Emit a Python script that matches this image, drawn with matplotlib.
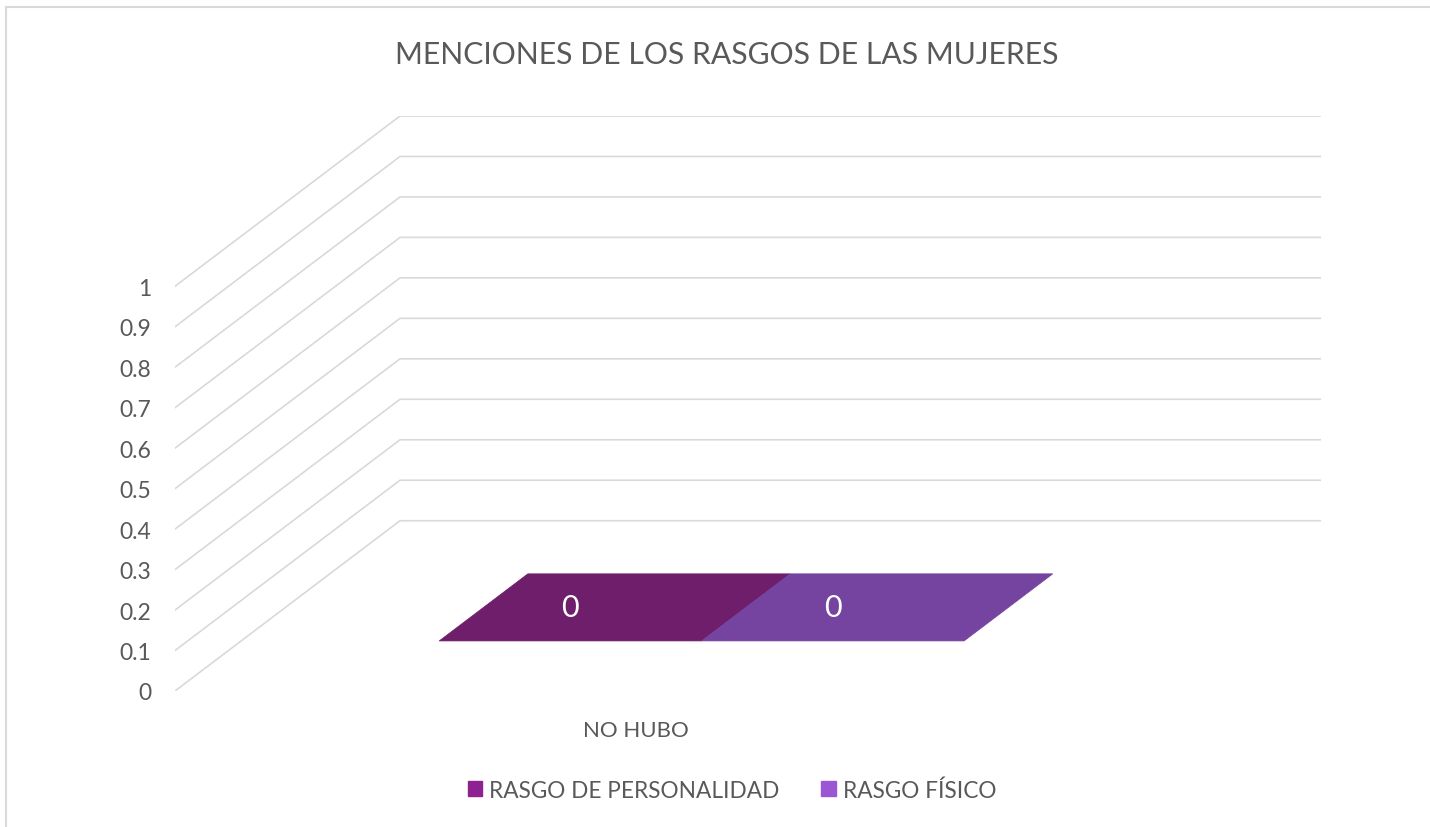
import numpy as np
import matplotlib
matplotlib.use("Agg")
import matplotlib.pyplot as plt
from matplotlib.patches import Polygon, Patch
from matplotlib.lines import Line2D

# ---- data ----
title = "MENCIONES DE LOS RASGOS DE LAS MUJERES"
categories = ["NO HUBO"]
series_names = ["RASGO DE PERSONALIDAD", "RASGO FÍSICO"]
series_values = [[0], [0]]
yticks = [0, 0.1, 0.2, 0.3, 0.4, 0.5, 0.6, 0.7, 0.8, 0.9, 1]
ytick_labels = ["0", "0.1", "0.2", "0.3", "0.4", "0.5", "0.6", "0.7", "0.8", "0.9", "1"]

# ---- style ----
face_colors = ["#6E1E6A", "#7543A0"]
legend_colors = ["#8E2290", "#9B57D3"]
grid_color = "#D9D9D9"
text_color = "#595959"
FONT = ["Lato", "DejaVu Sans"]

W, H = 1430, 828
fig = plt.figure(figsize=(W / 100, H / 100), dpi=100)
fig.patch.set_facecolor("white")

# oblique projection: depth d shifts points right / up in data units
SX = 225 / 921
SY = 170 / 404


def proj(x, v, d):
    return (x + d * SX, v + d * SY)


left_px, right_px = 175, 1321
bot_px, top_px = 692, 117
ax = fig.add_axes([left_px / W, (H - bot_px) / H, (right_px - left_px) / W, (bot_px - top_px) / H])
ax.set_xlim(-0.5, 0.5 + SX)
ax.set_ylim(0, 1 + SY)
for s in ax.spines.values():
    s.set_visible(False)
ax.set_facecolor("none")

ax.set_yticks(yticks)
ax.set_yticklabels(ytick_labels, family=FONT, fontsize=16.5, color=text_color)
ax.set_xticks(range(len(categories)))
ax.set_xticklabels(categories, family=FONT, fontsize=16, color=text_color)
ax.tick_params(axis="y", length=0, pad=17)
ax.tick_params(axis="x", length=0, pad=21)

# gridlines: floor diagonal + back wall
for v in yticks:
    p0 = proj(-0.5, v, 0)
    p1 = proj(-0.5, v, 1)
    p2 = proj(0.5, v, 1)
    ax.add_line(Line2D([p0[0], p1[0], p2[0]], [p0[1], p1[1], p2[1]],
                       color=grid_color, lw=1.2, zorder=1, solid_joinstyle="miter"))

# bars
bar_w = 0.285
d0, d1 = 0.294, 0.688
n = len(series_values)
for ci, cat in enumerate(categories):
    for si, vals in enumerate(series_values):
        v = vals[ci]
        xc = ci + (si - (n - 1) / 2) * bar_w
        x0, x1 = xc - bar_w / 2, xc + bar_w / 2
        col = face_colors[si]
        # top face
        top = [proj(x0, v, d0), proj(x1, v, d0), proj(x1, v, d1), proj(x0, v, d1)]
        ax.add_patch(Polygon(top, closed=True, facecolor=col, edgecolor=col, lw=0.5, zorder=3))
        if v > 0:
            front = [proj(x0, 0, d0), proj(x1, 0, d0), proj(x1, v, d0), proj(x0, v, d0)]
            side = [proj(x1, 0, d0), proj(x1, 0, d1), proj(x1, v, d1), proj(x1, v, d0)]
            ax.add_patch(Polygon(front, closed=True, facecolor=col, zorder=4))
            ax.add_patch(Polygon(side, closed=True, facecolor=col, zorder=3))
        lx, ly = proj(xc, v, d0)
        _, ly2 = proj(xc, v, (d0 + d1) / 2)
        ax.text(lx, ly2, f"{v:g}", ha="center", va="center", color="white",
                family=FONT, fontsize=22, zorder=5)

# title
fig.text(727 / W, 1 - 55 / H, title, ha="center", va="center", family=FONT,
         fontsize=21.7, color=text_color)

# legend
handles = [Patch(facecolor=c, edgecolor=c) for c in legend_colors]
leg = fig.legend(handles, series_names, loc="center", bbox_to_anchor=(732 / W, 1 - 791 / H),
                 ncol=2, frameon=False, prop={"family": FONT, "size": 16.3},
                 handlelength=0.65, handleheight=0.65, handletextpad=0.3, columnspacing=1.85)
for t in leg.get_texts():
    t.set_color(text_color)

# chart border (top and left)
fig.add_artist(Line2D([6 / W, 6 / W], [0, 1 - 8 / H], transform=fig.transFigure, color="#D9D9D9", lw=1.5))
fig.add_artist(Line2D([6 / W, 1], [1 - 8 / H, 1 - 8 / H], transform=fig.transFigure, color="#D9D9D9", lw=1.5))

fig.savefig("out.png", dpi=100, facecolor="white")
